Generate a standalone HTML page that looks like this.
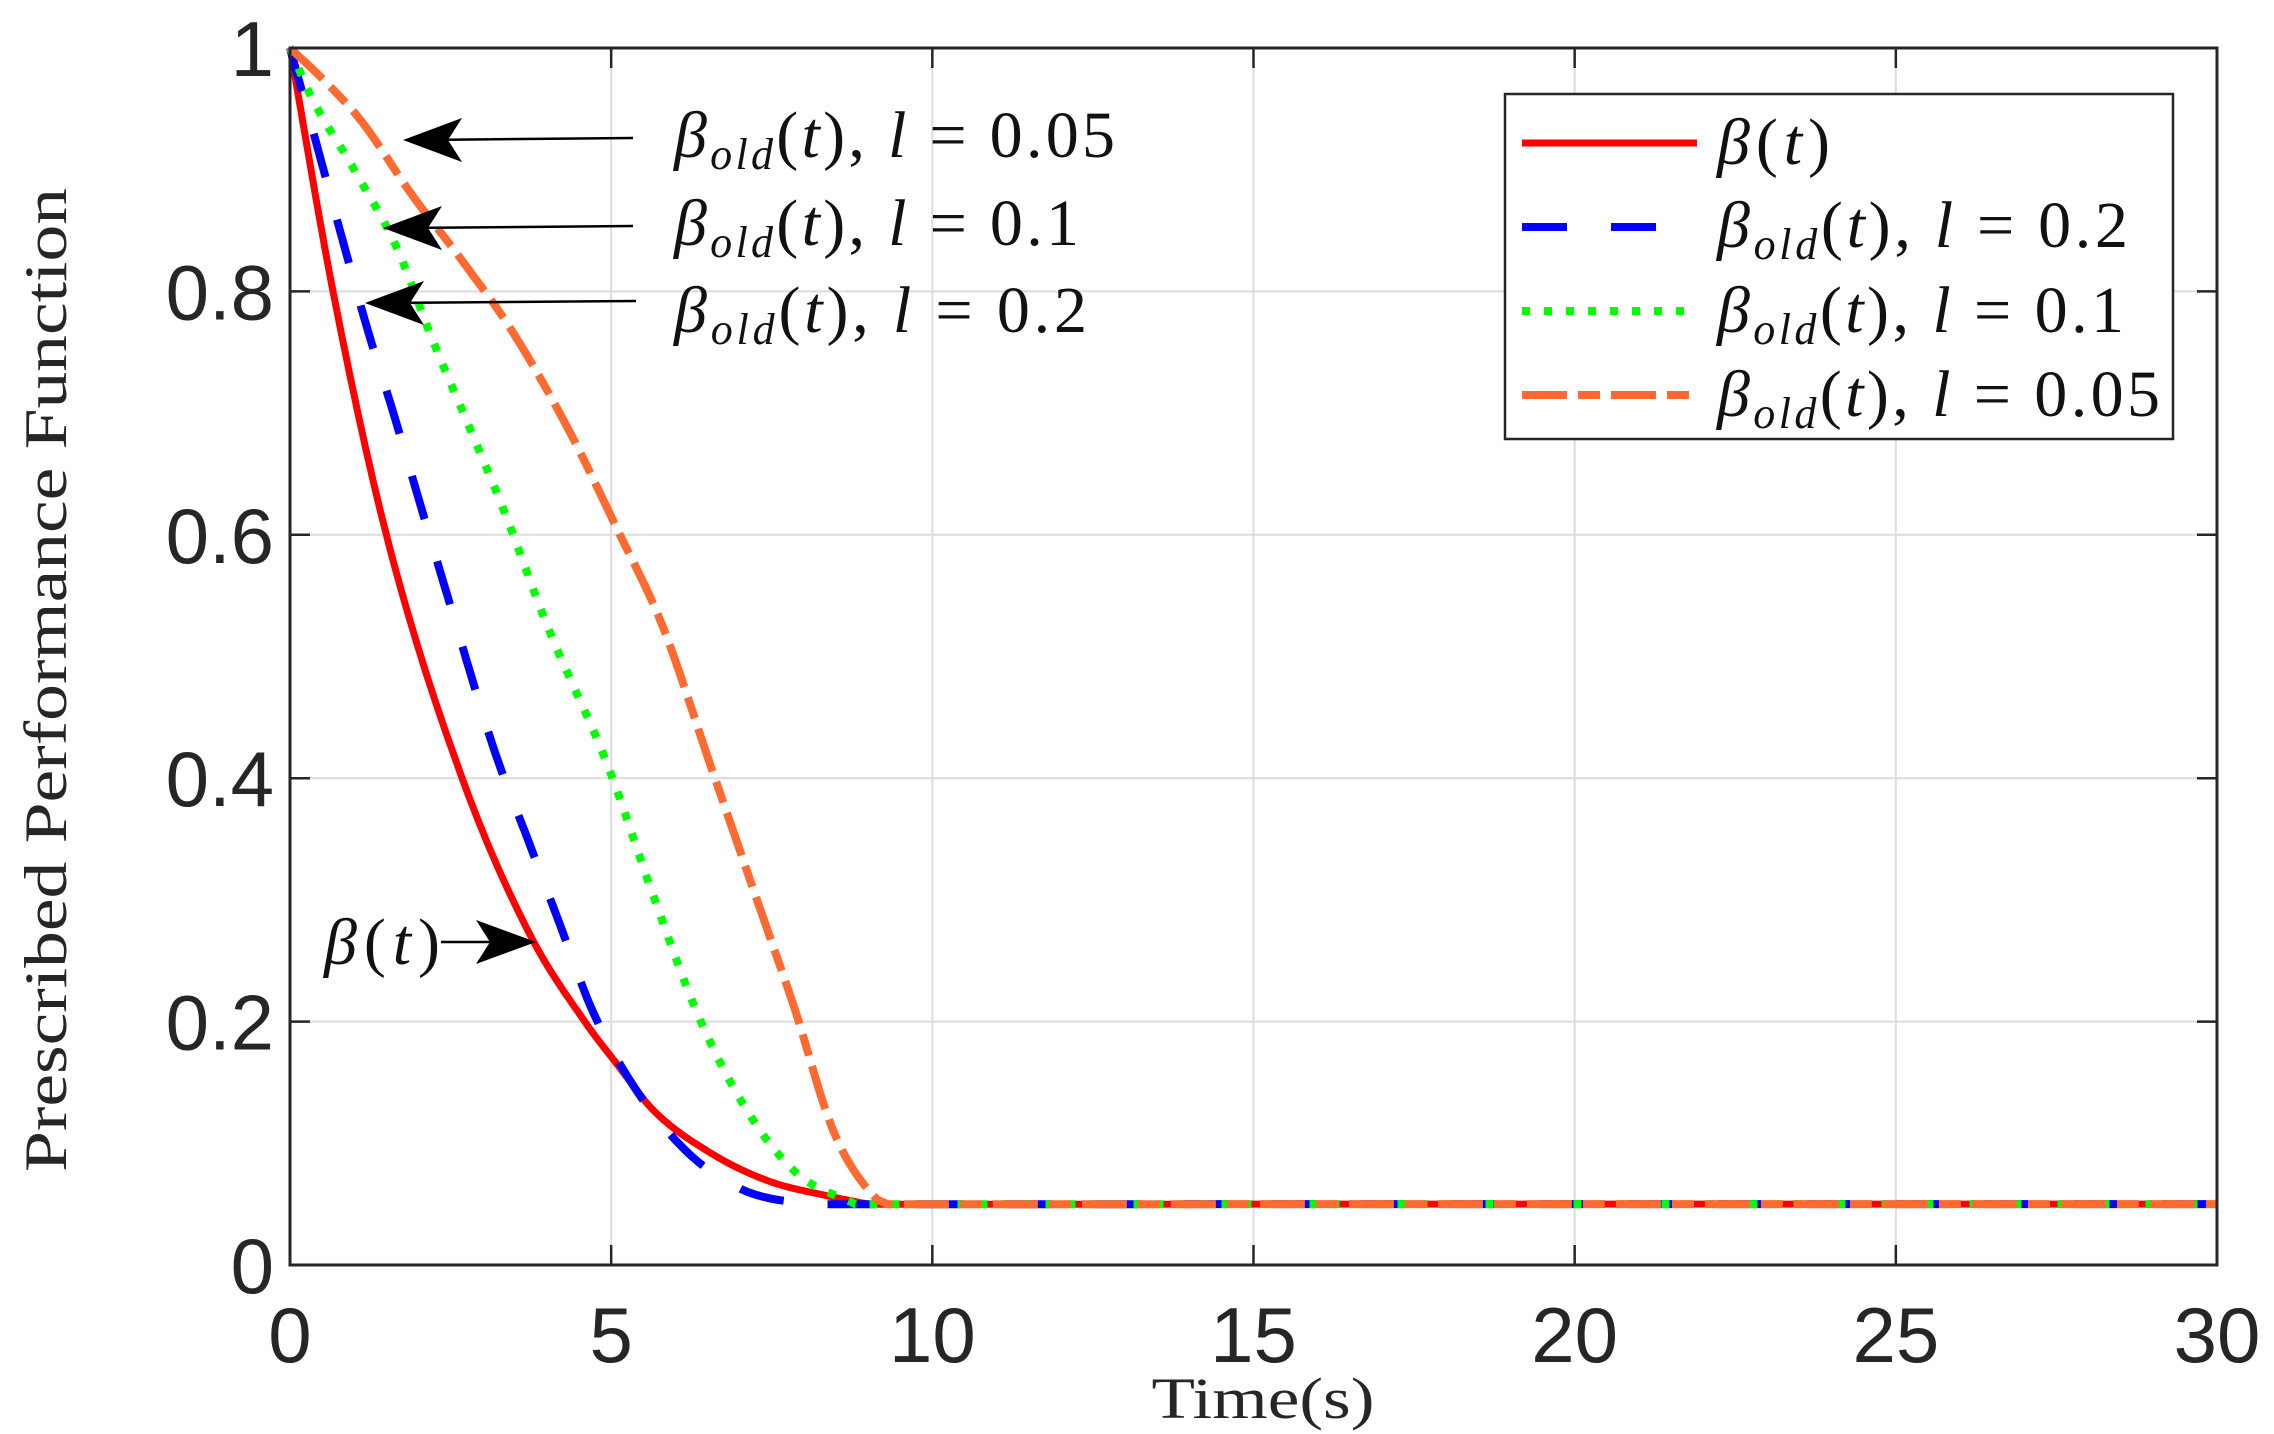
<!DOCTYPE html>
<html><head><meta charset="utf-8"><style>
html,body{margin:0;padding:0;background:#fff}
svg{display:block}
.tk{font-family:"Liberation Sans",sans-serif;font-size:78px;fill:#262626}
.sf{font-family:"Liberation Serif",serif;fill:#262626}
.m{font-family:"Liberation Serif",serif;font-style:italic;font-size:66px;fill:#111}
</style></head><body>
<svg id="s" width="2274" height="1434" viewBox="0 0 2274 1434" xmlns="http://www.w3.org/2000/svg">
<g id="grid" stroke="#dcdcdc" stroke-width="2"></g>
<g id="ticks" stroke="#262626" stroke-width="2.5"></g>
<g id="curves" fill="none"></g>
<rect x="290" y="48" width="1927" height="1217" fill="none" stroke="#262626" stroke-width="3"/>
<g id="labels"></g>
<text class="sf" font-size="60" transform="translate(66,680) rotate(-90)" text-anchor="middle" textLength="984" lengthAdjust="spacingAndGlyphs">Prescribed Performance Function</text>
<text class="sf" font-size="58" x="1263" y="1418" text-anchor="middle" textLength="223" lengthAdjust="spacingAndGlyphs">Time(s)</text>
<g stroke="#000" stroke-width="2.5">
<line x1="633" y1="138" x2="420" y2="140"/>
<line x1="633" y1="226" x2="400" y2="228"/>
<line x1="636" y1="301" x2="382" y2="303"/>
<line x1="441" y1="942" x2="520" y2="942"/>
</g>
<g fill="#000">
<path d="M403 140 L462 118 L448 140 L462 162 Z"/>
<path d="M383 228 L442 206 L428 228 L442 250 Z"/>
<path d="M365 303 L424 281 L410 303 L424 325 Z"/>
<path d="M536 942 L476 920 L490 942 L476 964 Z"/>
</g>
<text class="m" x="674" y="157" textLength="441" lengthAdjust="spacing">β<tspan font-size="44" dy="12">old</tspan><tspan dy="-12" font-style="normal">(</tspan>t<tspan font-style="normal">),</tspan> l <tspan font-style="normal">= 0.05</tspan></text>
<text class="m" x="674" y="245" textLength="405" lengthAdjust="spacing">β<tspan font-size="44" dy="12">old</tspan><tspan dy="-12" font-style="normal">(</tspan>t<tspan font-style="normal">),</tspan> l <tspan font-style="normal">= 0.1</tspan></text>
<text class="m" x="674" y="332" textLength="413" lengthAdjust="spacing">β<tspan font-size="44" dy="12">old</tspan><tspan dy="-12" font-style="normal">(</tspan>t<tspan font-style="normal">),</tspan> l <tspan font-style="normal">= 0.2</tspan></text>
<text class="m" x="324" y="964" textLength="116" lengthAdjust="spacing">β<tspan font-style="normal">(</tspan>t<tspan font-style="normal">)</tspan></text>
<rect x="1505" y="94" width="668" height="345" fill="#fff" stroke="#262626" stroke-width="2.5"/>
<line x1="1522" y1="143" x2="1697" y2="143" stroke="#ff0000" stroke-width="7"/>
<line x1="1522" y1="227" x2="1697" y2="227" stroke="#0000ff" stroke-width="8" stroke-dasharray="45 44"/>
<line x1="1522" y1="311" x2="1697" y2="311" stroke="#00ff00" stroke-width="8" stroke-dasharray="8 14"/>
<line x1="1522" y1="395" x2="1697" y2="395" stroke="#ff6a30" stroke-width="8" stroke-dasharray="45 11 22 11"/>
<text class="m" x="1717" y="164" textLength="113" lengthAdjust="spacing">β<tspan font-style="normal">(</tspan>t<tspan font-style="normal">)</tspan></text>
<text class="m" x="1717" y="247" textLength="411" lengthAdjust="spacing">β<tspan font-size="44" dy="12">old</tspan><tspan dy="-12" font-style="normal">(</tspan>t<tspan font-style="normal">),</tspan> l <tspan font-style="normal">= 0.2</tspan></text>
<text class="m" x="1717" y="332" textLength="407" lengthAdjust="spacing">β<tspan font-size="44" dy="12">old</tspan><tspan dy="-12" font-style="normal">(</tspan>t<tspan font-style="normal">),</tspan> l <tspan font-style="normal">= 0.1</tspan></text>
<text class="m" x="1717" y="416" textLength="443" lengthAdjust="spacing">β<tspan font-size="44" dy="12">old</tspan><tspan dy="-12" font-style="normal">(</tspan>t<tspan font-style="normal">),</tspan> l <tspan font-style="normal">= 0.05</tspan></text>
</svg>
<script>
var NS="http://www.w3.org/2000/svg";
function X(t){return 290+t*1927/30}
function Y(v){return 1265-v*1217}
function el(p,n,a){var e=document.createElementNS(NS,n);for(var k in a)e.setAttribute(k,a[k]);p.appendChild(e);return e}
var g=document.getElementById('grid'),tk=document.getElementById('ticks'),lb=document.getElementById('labels');
for(var i=0;i<=6;i++){var x=X(i*5);
 if(i>0&&i<6)el(g,'line',{x1:x,y1:48,x2:x,y2:1265});
 el(tk,'line',{x1:x,y1:1265,x2:x,y2:1245});el(tk,'line',{x1:x,y1:48,x2:x,y2:68});
 var t=el(lb,'text',{x:x,y:1362,'text-anchor':'middle','class':'tk'});t.textContent=String(i*5);}
var yl=['0','0.2','0.4','0.6','0.8','1'];
for(var i=0;i<=5;i++){var y=Y(i*0.2);
 if(i>0&&i<5)el(g,'line',{x1:290,y1:y,x2:2217,y2:y});
 el(tk,'line',{x1:290,y1:y,x2:310,y2:y});el(tk,'line',{x1:2217,y1:y,x2:2197,y2:y});
 var t=el(lb,'text',{x:274,y:y+28,'text-anchor':'end','class':'tk'});t.textContent=yl[i];}
function path(pts){
 var n=pts.length,xs=pts.map(p=>p[0]),ys=pts.map(p=>p[1]),d=[],m=[];
 for(var i=0;i<n-1;i++)d.push((ys[i+1]-ys[i])/(xs[i+1]-xs[i]));
 m[0]=d[0];m[n-1]=d[n-2];
 for(var i=1;i<n-1;i++){m[i]=(d[i-1]*d[i]<=0)?0:(d[i-1]+d[i])/2;}
 for(var i=0;i<n-1;i++){if(d[i]==0){m[i]=m[i+1]=0;continue;}var a=m[i]/d[i],b=m[i+1]/d[i],s=a*a+b*b;if(s>9){var tt=3/Math.sqrt(s);m[i]=tt*a*d[i];m[i+1]=tt*b*d[i];}}
 var s='M'+X(xs[0]).toFixed(1)+' '+Y(ys[0]).toFixed(1);
 for(var i=0;i<n-1;i++){var h=xs[i+1]-xs[i];
  for(var k=1;k<=20;k++){var u=k/20,h00=2*u*u*u-3*u*u+1,h10=u*u*u-2*u*u+u,h01=-2*u*u*u+3*u*u,h11=u*u*u-u*u;
   var y=h00*ys[i]+h10*h*m[i]+h01*ys[i+1]+h11*h*m[i+1];
   s+=' L'+X(xs[i]+u*h).toFixed(1)+' '+Y(y).toFixed(1);}}
 s+=' L'+X(30)+' '+Y(0.05);return s;}
var red=[[0,1],[0.67,0.8],[1.5,0.6],[2.68,0.4],[3.75,0.27],[4.59,0.2],[5.12,0.163],[5.66,0.127],[6.55,0.092],[7.45,0.069],[8.35,0.057],[9.0,0.05]];
var blue=[[0,1],[0.47,0.91],[0.83,0.84],[1.2,0.77],[1.61,0.70],[2.0,0.63],[2.45,0.55],[3.2,0.42],[3.7,0.35],[4.2,0.28],[4.7,0.21],[5.35,0.147],[6.2,0.092],[7.0,0.063],[7.45,0.055],[8.2,0.05]];
var green=[[0,1],[0.33,0.96],[1.0,0.9],[1.67,0.835],[2.22,0.76],[2.78,0.69],[3.33,0.62],[4.0,0.526],[4.95,0.41],[5.66,0.303],[6.38,0.202],[7.15,0.124],[7.9,0.075],[8.8,0.05]];
var orange=[[0,1],[0.5,0.975],[1.11,0.94],[1.89,0.88],[2.67,0.826],[3.45,0.768],[4.34,0.686],[5.1,0.604],[5.8,0.525],[6.55,0.41],[7.27,0.3],[7.86,0.21],[8.46,0.11],[9.1,0.056],[9.3,0.05]];
var c=document.getElementById('curves');
el(c,'path',{d:path(red),stroke:'#ff0000','stroke-width':7});
el(c,'path',{d:path(blue),stroke:'#0000ff','stroke-width':8,'stroke-dasharray':'45 44'});
el(c,'path',{d:path(green),stroke:'#00ff00','stroke-width':8,'stroke-dasharray':'8 14'});
el(c,'path',{d:path(orange),stroke:'#ff6a30','stroke-width':8,'stroke-dasharray':'45 11 22 11'});
</script>
</body></html>
